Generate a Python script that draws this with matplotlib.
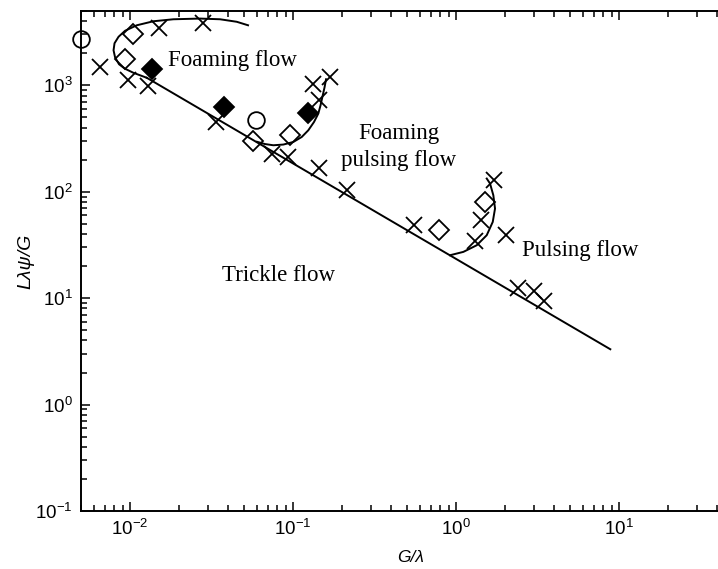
import matplotlib
matplotlib.use('Agg')
import matplotlib.pyplot as plt
from matplotlib.ticker import LogLocator, LogFormatterSciNotation, NullFormatter

plt.rcParams['mathtext.fontset'] = 'custom'
plt.rcParams['mathtext.rm'] = 'Liberation Sans'
plt.rcParams['mathtext.it'] = 'Liberation Sans:italic'
plt.rcParams['mathtext.default'] = 'regular'
plt.rcParams['font.family'] = ['Liberation Sans', 'DejaVu Sans']

# measured points (G/lambda, L*lambda*psi/G)
cross_x = [0.00655, 0.01513, 0.02817, 0.00976, 0.01295, 0.0338, 0.0743, 0.0932,
           0.1331, 0.1687, 0.1433, 0.1433, 0.2135, 0.55, 1.311, 1.424, 1.703,
           2.026, 2.417, 3.03, 3.47]
cross_y = [1486, 3483, 3847, 1114, 979, 452, 228, 214, 1022, 1189, 723, 167.9,
           103.2, 48.4, 34.6, 53.9, 128, 39.0, 12.4, 11.6, 9.35]

open_dia_x = [0.01047, 0.00932, 0.0568, 0.0952, 0.786, 1.506]
open_dia_y = [3059, 1781, 302, 339, 43.4, 80.1]

filled_dia_x = [0.01358, 0.0377, 0.1241]
filled_dia_y = [1414, 625.5, 552]

circle_x = [0.005, 0.0593]
circle_y = [2747, 476]

# regime boundaries
trickle_x = [0.01266, 8.844]
trickle_y = [1176, 3.31]

foam_x = [0.01266, 0.01152, 0.01047, 0.00932, 0.00856, 0.00809, 0.00792, 0.00803,
          0.0085, 0.00932, 0.011, 0.0139, 0.01843, 0.02688, 0.03565, 0.04514, 0.05295]
foam_y = [1176, 1241, 1311, 1429, 1575, 1832, 2132, 2481, 2855, 3251, 3661, 3993,
          4169, 4233, 4169, 3949, 3661]

foam_pulse_x = [0.0601, 0.0673, 0.0757, 0.0872, 0.1004, 0.1131, 0.1241, 0.1345,
                0.1429, 0.1475, 0.1517, 0.1561, 0.1594]
foam_pulse_y = [294.5, 280.3, 273.1, 277.3, 293.3, 326.8, 377.8, 452, 542, 648.6,
                788, 957.7, 1139]

pulse_x = [0.9188, 1.109, 1.340, 1.543, 1.680, 1.735, 1.694, 1.617, 1.543]
pulse_y = [25.3, 27.2, 31.4, 39.0, 52.0, 69.5, 92.6, 119.3, 132.9]

fig = plt.figure(figsize=(7.18, 5.69), dpi=100)
ax = fig.add_axes([0.1128, 0.1019, 0.908, 0.879])

lw = 1.4
ax.plot(trickle_x, trickle_y, color='black', lw=lw)
ax.plot(foam_x, foam_y, color='black', lw=lw)
ax.plot(foam_pulse_x, foam_pulse_y, color='black', lw=lw)
ax.plot(pulse_x, pulse_y, color='black', lw=lw)

ax.plot(cross_x, cross_y, 'x', color='black', ms=11, mew=1.3)
ax.plot(open_dia_x, open_dia_y, 'D', mfc='none', mec='black', ms=10, mew=1.3)
ax.plot(filled_dia_x, filled_dia_y, 'D', color='black', ms=10, mew=1.3)
ax.plot(circle_x, circle_y, 'o', mfc='none', mec='black', ms=12, mew=1.3,
        clip_on=False)

ax.set_xscale('log')
ax.set_yscale('log')
ax.set_xlim(0.005, 50)
ax.set_ylim(0.1, 5000)

for axis in (ax.xaxis, ax.yaxis):
    axis.set_major_locator(LogLocator(base=10, numticks=20))
    axis.set_minor_locator(LogLocator(base=10, subs=range(2, 10), numticks=20))
    axis.set_major_formatter(LogFormatterSciNotation())
    axis.set_minor_formatter(NullFormatter())

ax.tick_params(which='both', direction='in', top=True, right=False, width=1.1)
ax.tick_params(which='major', length=6.5, labelsize=13.5, pad=6)
ax.tick_params(which='minor', length=4)
ax.spines['right'].set_visible(False)
for s in ('left', 'bottom', 'top'):
    ax.spines[s].set_linewidth(1.4)

ax.set_xlabel('G/λ', fontsize=12.5, fontstyle='italic')
ax.set_ylabel('Lλψ/G', fontsize=14, fontstyle='italic')
ax.xaxis.set_label_coords(0.505, -0.078)
ax.yaxis.set_label_coords(-0.071, 0.5)

serif = dict(family='Liberation Serif', fontsize=16.5, color='black')
ax.text(0.0171, 1718, 'Foaming flow', ha='left', va='center', **serif)
ax.text(0.447, 264.5, 'Foaming\npulsing flow', ha='center', va='center',
        linespacing=1.35, **serif)
ax.text(5.74, 28.2, 'Pulsing flow', ha='center', va='center', **serif)
ax.text(0.082, 16.4, 'Trickle flow', ha='center', va='center', **serif)

fig.savefig('out.png', dpi=100)
